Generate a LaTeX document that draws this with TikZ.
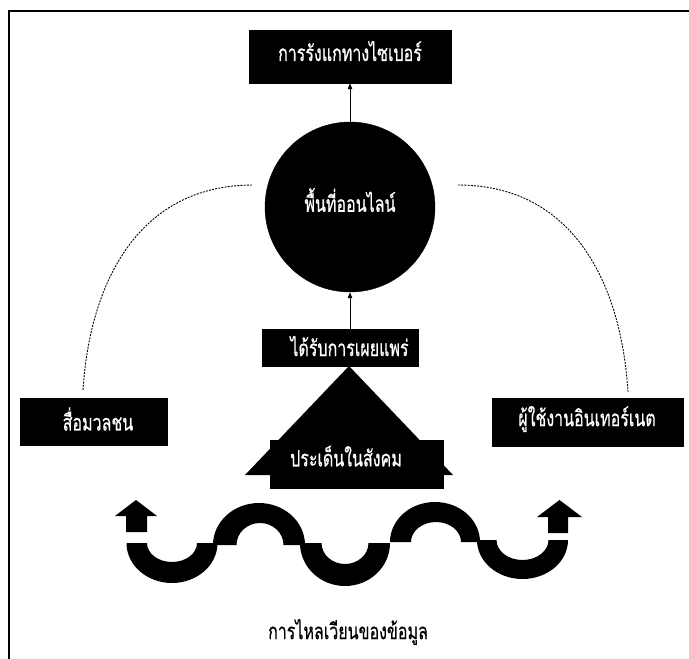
\documentclass[tikz,border=0pt]{standalone}
\usepackage{fontspec}
\usepackage{graphicx}
\newfontfamily\thaifont[Script=Thai,FakeBold=0.6]{Loma}
\newcommand\tallthai[1]{\scalebox{1}[1.4]{#1}}
\usetikzlibrary{arrows.meta}
\tikzset{
  blackbox/.style={draw=black, fill=black, text=white, inner sep=0pt},
  label/.style={inner sep=0pt, text=white, font=\thaifont\fontsize{16}{19}\selectfont},
  linkarrow/.style={draw=black, line width=0.8pt, -{Triangle[length=6pt,width=4.5pt]}},
  dashlink/.style={draw=black, line width=0.9pt, dash pattern=on 2pt off 1.2pt},
  wave/.style={fill=black, draw=none},
}
\begin{document}
\begin{tikzpicture}[x=1pt,y=-1pt]
\useasboundingbox (0,0) rectangle (689,659);
% frame
\draw[line width=2pt] (8.5,659) -- (8.5,10.5) -- (689,10.5);

% nodes
\node[blackbox, minimum width=202pt, minimum height=53pt] (cyber) at (350.5,56.5) {};
\node[label] (cybertext) at (350,51) {\tallthai{การรังแกทางไซเบอร์}};

\node[blackbox, circle, minimum size=170pt] (online) at (350,207) {};
\node[label] (onlinetext) at (350,200) {\tallthai{พื้นที่ออนไลน์}};

\node[blackbox, minimum width=156pt, minimum height=37pt] (spread) at (340,347.5) {};
\node[label] (spreadtext) at (349.5,346) {\tallthai{ได้รับการเผยแพร่}};

\path[fill=black] (349,366) -- (453,475) -- (245,475) -- cycle;
\node[blackbox, minimum width=173pt, minimum height=48pt] (issue) at (356.5,464) {};
\node[label] (issuetext) at (346,456) {\tallthai{ประเด็นในสังคม}};

\node[blackbox, minimum width=147pt, minimum height=47pt] (media) at (93.5,421.5) {};
\node[label] (mediatext) at (98,419) {\tallthai{สื่อมวลชน}};

\node[blackbox, minimum width=191pt, minimum height=48pt] (users) at (587.5,422) {};
\node[label] (userstext) at (587,419) {\tallthai{ผู้ใช้งานอินเทอร์เนต}};

\node[label, text=black] (flow) at (348,632) {\tallthai{การไหลเวียนของข้อมูล}};

% arrows
\draw[linkarrow] (spread.north -| online.south) -- (online.south);
\draw[linkarrow] (online.north) -- (cyber.south -| online.north);

% dashed arcs
\coordinate (la) at (83,390);
\coordinate (lb) at (253,185);
\coordinate (ra) at (458,185);
\coordinate (rb) at (628,392);
\draw[dashlink] (la) .. controls (90,280) and (140,185) .. (lb);
\draw[dashlink] (ra) .. controls (571,185) and (621,280) .. (rb);

% wave: troughs (U) and crests
\path[wave] (126.5,543) arc[start angle=180, end angle=0, x radius=45.5, y radius=40]
  -- (197,543) arc[start angle=0, end angle=180, x radius=25, y radius=19] -- cycle;
\path[wave] (213,545) arc[start angle=180, end angle=360, x radius=46, y radius=42]
  -- (283.5,545) arc[start angle=360, end angle=180, x radius=23.5, y radius=22] -- cycle;
\path[wave] (300,543) arc[start angle=180, end angle=0, x radius=45, y radius=43]
  -- (368.5,543) arc[start angle=0, end angle=180, x radius=23.5, y radius=21] -- cycle;
\path[wave] (390,542) arc[start angle=180, end angle=360, x radius=45, y radius=40]
  -- (461,542) arc[start angle=360, end angle=180, x radius=25, y radius=20] -- cycle;
\path[wave] (477,540) arc[start angle=180, end angle=0, x radius=45.5, y radius=39]
  -- (548.5,540) arc[start angle=0, end angle=180, x radius=26, y radius=20] -- cycle;
% up arrows at both ends
\path[wave] (136,500) -- (157,516) -- (147,516) -- (147,532) -- (126,532) -- (126,516) -- (115,516) -- cycle;
\path[wave] (559.5,500) -- (582,517) -- (568,517) -- (568,533) -- (548,533) -- (548,517) -- (537,517) -- cycle;
\end{tikzpicture}
\end{document}
